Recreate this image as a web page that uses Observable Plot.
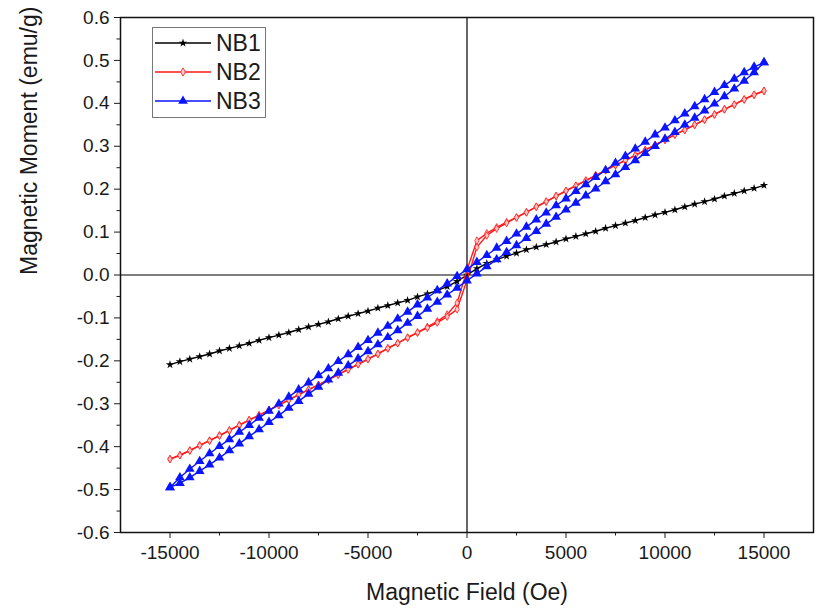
<!DOCTYPE html>
<html>
<head>
<meta charset="utf-8">
<script src="https://cdn.jsdelivr.net/npm/d3@7"></script>
<script src="https://cdn.jsdelivr.net/npm/@observablehq/plot@0.6"></script>
<style>
  html, body { margin: 0; padding: 0; background: #fff; }
  #wrap { position: relative; width: 827px; height: 612px; font-family: "Liberation Sans", Arial, sans-serif; }
  #legend { position: absolute; left: 152px; top: 27px; }
</style>
</head>
<body>
<div id="wrap"><div id="chart"></div><div id="legend"></div></div>
<script>
// Magnetic field (Oe), shared by all branches (ascending order)
const field = [-15000,-14500,-14000,-13500,-13000,-12500,-12000,-11500,-11000,-10500,-10000,-9500,-9000,-8500,-8000,-7500,-7000,-6500,-6000,-5500,-5000,-4500,-4000,-3500,-3000,-2500,-2000,-1500,-1000,-500,0,500,1000,1500,2000,2500,3000,3500,4000,4500,5000,5500,6000,6500,7000,7500,8000,8500,9000,9500,10000,10500,11000,11500,12000,12500,13000,13500,14000,14500,15000];

// NB1 (emu/g)
const nb1 = [-0.209,-0.202,-0.196,-0.190,-0.184,-0.177,-0.171,-0.165,-0.159,-0.152,-0.146,-0.140,-0.134,-0.127,-0.121,-0.115,-0.109,-0.102,-0.096,-0.090,-0.084,-0.077,-0.071,-0.065,-0.059,-0.051,-0.044,-0.036,-0.027,-0.015,0.000,0.015,0.027,0.036,0.044,0.051,0.059,0.065,0.071,0.077,0.084,0.090,0.096,0.102,0.109,0.115,0.121,0.127,0.134,0.140,0.146,0.152,0.159,0.165,0.171,0.177,0.184,0.190,0.196,0.202,0.209];

// NB2 descending-field branch and ascending-field branch (listed in ascending field order)
const nb2Down = [-0.429,-0.420,-0.409,-0.397,-0.386,-0.374,-0.362,-0.350,-0.338,-0.327,-0.315,-0.303,-0.291,-0.279,-0.267,-0.256,-0.244,-0.232,-0.220,-0.208,-0.196,-0.184,-0.171,-0.159,-0.146,-0.134,-0.121,-0.108,-0.092,-0.065,0.012,0.080,0.097,0.111,0.123,0.134,0.146,0.159,0.171,0.184,0.196,0.208,0.220,0.232,0.244,0.256,0.267,0.279,0.291,0.303,0.315,0.327,0.338,0.350,0.362,0.374,0.386,0.397,0.409,0.420,0.429];
const nb2Up = [-0.429,-0.420,-0.409,-0.397,-0.386,-0.374,-0.362,-0.350,-0.338,-0.327,-0.315,-0.303,-0.291,-0.279,-0.267,-0.256,-0.244,-0.232,-0.220,-0.208,-0.196,-0.184,-0.171,-0.159,-0.146,-0.134,-0.123,-0.111,-0.097,-0.080,-0.012,0.065,0.092,0.108,0.121,0.134,0.146,0.159,0.171,0.184,0.196,0.208,0.220,0.232,0.244,0.256,0.267,0.279,0.291,0.303,0.315,0.327,0.338,0.350,0.362,0.374,0.386,0.397,0.409,0.420,0.429];

// NB3 descending-field branch and ascending-field branch (ascending field order)
const nb3Down = [-0.495,-0.472,-0.452,-0.434,-0.416,-0.399,-0.383,-0.366,-0.350,-0.333,-0.317,-0.300,-0.284,-0.267,-0.251,-0.234,-0.218,-0.201,-0.185,-0.168,-0.152,-0.135,-0.119,-0.102,-0.086,-0.069,-0.053,-0.036,-0.020,-0.003,0.013,0.030,0.046,0.063,0.079,0.096,0.112,0.129,0.145,0.162,0.178,0.195,0.211,0.228,0.244,0.261,0.277,0.294,0.310,0.327,0.343,0.360,0.376,0.393,0.409,0.426,0.442,0.457,0.472,0.485,0.495];
const nb3Up = [-0.495,-0.485,-0.472,-0.457,-0.442,-0.426,-0.409,-0.393,-0.376,-0.360,-0.343,-0.327,-0.310,-0.294,-0.277,-0.261,-0.244,-0.228,-0.211,-0.195,-0.178,-0.162,-0.145,-0.129,-0.112,-0.096,-0.079,-0.063,-0.046,-0.030,-0.013,0.003,0.020,0.036,0.053,0.069,0.086,0.102,0.119,0.135,0.152,0.168,0.185,0.201,0.218,0.234,0.251,0.267,0.284,0.300,0.317,0.333,0.350,0.366,0.383,0.399,0.416,0.434,0.452,0.472,0.495];

const seriesNames = ["NB1", "NB2", "NB3"];
const xMajor = [-15000,-10000,-5000,0,5000,10000,15000];
const xMinor = [-12500,-7500,-2500,2500,7500,12500];
const yMajor = [-0.6,-0.5,-0.4,-0.3,-0.2,-0.1,0,0.1,0.2,0.3,0.4,0.5,0.6];
const yMinor = [-0.55,-0.45,-0.35,-0.25,-0.15,-0.05,0.05,0.15,0.25,0.35,0.45,0.55];
const xTitle = "Magnetic Field (Oe)";
const yTitle = "Magnetic Moment (emu/g)";

const colors = {NB1: "#000000", NB2: "#ff1a1a", NB3: "#0a14ff"};

function branch(name, vals, dir) {
  const rows = field.map((h, i) => ({series: name, branch: name + dir, H: h, M: vals[i]}));
  return dir === "down" ? rows.reverse() : rows;
}
const d1 = branch("NB1", nb1, "up");
const d2 = [...branch("NB2", nb2Down, "down"), ...branch("NB2", nb2Up, "up")];
const d3b = [...branch("NB3", nb3Down, "down"), ...branch("NB3", nb3Up, "up")];

const FONT = "Liberation Sans, Arial, sans-serif";

const chart = Plot.plot({
  width: 827,
  height: 612,
  marginLeft: 120,
  marginRight: 14,
  marginTop: 17,
  marginBottom: 80,
  style: {fontFamily: FONT, background: "white", color: "#1a1a1a"},
  x: {domain: [-17500, 17500]},
  y: {domain: [-0.6, 0.6]},
  marks: [
    Plot.ruleX([0], {stroke: "#000", strokeWidth: 1.2}),
    Plot.ruleY([0], {stroke: "#000", strokeWidth: 1.2}),
    Plot.line(d1, {x: "H", y: "M", z: "branch", stroke: colors.NB1, strokeWidth: 1.4}),
    Plot.dot(d1, {x: "H", y: "M", symbol: "star", r: 2.6, fill: colors.NB1, stroke: "none"}),
    Plot.line(d2, {x: "H", y: "M", z: "branch", stroke: colors.NB2, strokeWidth: 1.4}),
    Plot.dot(d2, {x: "H", y: "M", symbol: "diamond", r: 2.3, fill: "#ffc8c8", stroke: colors.NB2, strokeWidth: 0.8}),
    Plot.line(d3b, {x: "H", y: "M", z: "branch", stroke: colors.NB3, strokeWidth: 1.4}),
    Plot.dot(d3b, {x: "H", y: "M", symbol: "triangle", r: 3.6, fill: colors.NB3, stroke: "none"}),
    Plot.frame({stroke: "#111", strokeWidth: 1.5}),
    Plot.axisX(xMajor, {tickSize: 6, tickPadding: 7, tickFormat: d => String(d), fontSize: 19, label: null}),
    Plot.axisX(xMinor, {tickSize: 3.5, tickFormat: () => "", label: null}),
    Plot.axisY(yMajor, {tickSize: 6, tickPadding: 5, tickFormat: d => d.toFixed(1), fontSize: 19, label: null}),
    Plot.axisY(yMinor, {tickSize: 3.5, tickFormat: () => "", label: null}),
    Plot.text([xTitle], {frameAnchor: "bottom", dy: 67, text: d => d, fontSize: 23, fill: "#1a1a1a"}),
    Plot.text([yTitle], {frameAnchor: "left", dx: -91, rotate: -90, text: d => d, fontSize: 23, fill: "#1a1a1a"})
  ]
});
document.getElementById("chart").appendChild(chart);

// Legend
const lg = d3.select("#legend").append("svg").attr("width", 115).attr("height", 92)
  .style("font-family", FONT).style("overflow", "visible");
lg.append("rect").attr("x", 0.5).attr("y", 0.5).attr("width", 113).attr("height", 90)
  .attr("fill", "white").attr("stroke", "#777").attr("stroke-width", 1);
const markers = {NB1: {type: d3.symbolStar, size: 22, fill: "#000", stroke: "none"},
                 NB2: {type: d3.symbolDiamond, size: 20, fill: "#ffc8c8", stroke: colors.NB2},
                 NB3: {type: d3.symbolTriangle, size: 40, fill: colors.NB3, stroke: "none"}};
seriesNames.forEach((name, i) => {
  const y = 16 + i * 29;
  lg.append("line").attr("x1", 3).attr("x2", 59).attr("y1", y).attr("y2", y)
    .attr("stroke", colors[name]).attr("stroke-width", 1.6);
  const m = markers[name];
  lg.append("path").attr("d", d3.symbol(m.type, m.size)()).attr("transform", `translate(31,${y})`)
    .attr("fill", m.fill).attr("stroke", m.stroke).attr("stroke-width", 0.8);
  lg.append("text").attr("x", 64).attr("y", y).attr("dy", "0.36em").attr("font-size", 23)
    .attr("fill", "#1a1a1a").text(name);
});
</script>
</body>
</html>
